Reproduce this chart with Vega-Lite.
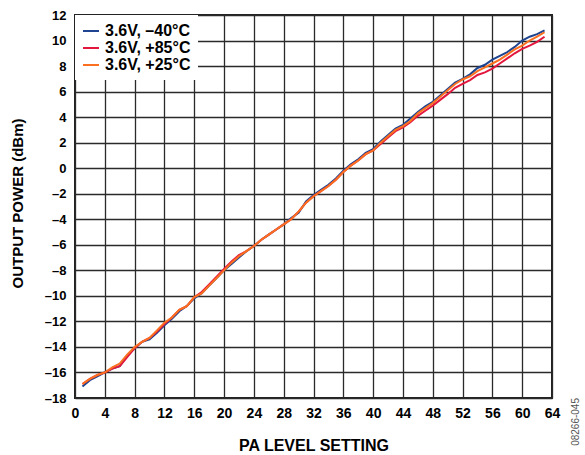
{
  "$schema": "https://vega.github.io/schema/vega-lite/v6.json",
  "width": 477,
  "height": 383,
  "autosize": {"type": "none"},
  "padding": {"left": 75, "top": 15, "right": 33, "bottom": 57},
  "background": "white",
  "title": {
    "text": "08266-045",
    "orient": "right",
    "anchor": "end",
    "frame": "group",
    "angle": -90,
    "align": "right",
    "baseline": "top",
    "offset": 1,
    "fontSize": 10,
    "fontWeight": "normal",
    "font": "Liberation Sans",
    "color": "#555555"
  },
  "config": {
    "view": {"stroke": "#222222", "strokeWidth": 2},
    "axis": {
      "labelFont": "Liberation Sans",
      "labelFontWeight": "bold",
      "labelFontSize": 14,
      "labelColor": "#000000",
      "titleFont": "Liberation Sans",
      "titleFontWeight": "bold",
      "titleFontSize": 15,
      "titleColor": "#000000",
      "gridColor": "#2a2a2a",
      "gridWidth": 1.3,
      "gridOpacity": 1,
      "domain": false,
      "ticks": false
    },
    "legend": {
      "labelFont": "Liberation Sans",
      "labelFontWeight": "bold",
      "labelFontSize": 16,
      "labelColor": "#000000",
      "labelLimit": 300
    }
  },
  "data": {
    "values": [
      {"pa":1,"s":"3.6V, –40°C","p":-17.1},{"pa":2,"s":"3.6V, –40°C","p":-16.6},{"pa":3,"s":"3.6V, –40°C","p":-16.3},{"pa":4,"s":"3.6V, –40°C","p":-16.0},{"pa":5,"s":"3.6V, –40°C","p":-15.7},{"pa":6,"s":"3.6V, –40°C","p":-15.5},{"pa":7,"s":"3.6V, –40°C","p":-14.7},{"pa":8,"s":"3.6V, –40°C","p":-14.1},{"pa":9,"s":"3.6V, –40°C","p":-13.6},{"pa":10,"s":"3.6V, –40°C","p":-13.4},
      {"pa":11,"s":"3.6V, –40°C","p":-12.9},{"pa":12,"s":"3.6V, –40°C","p":-12.3},{"pa":13,"s":"3.6V, –40°C","p":-11.8},{"pa":14,"s":"3.6V, –40°C","p":-11.2},{"pa":15,"s":"3.6V, –40°C","p":-10.8},{"pa":16,"s":"3.6V, –40°C","p":-10.2},{"pa":17,"s":"3.6V, –40°C","p":-9.8},{"pa":18,"s":"3.6V, –40°C","p":-9.2},{"pa":19,"s":"3.6V, –40°C","p":-8.6},{"pa":20,"s":"3.6V, –40°C","p":-8.0},
      {"pa":21,"s":"3.6V, –40°C","p":-7.5},{"pa":22,"s":"3.6V, –40°C","p":-7.0},{"pa":23,"s":"3.6V, –40°C","p":-6.5},{"pa":24,"s":"3.6V, –40°C","p":-6.1},{"pa":25,"s":"3.6V, –40°C","p":-5.6},{"pa":26,"s":"3.6V, –40°C","p":-5.2},{"pa":27,"s":"3.6V, –40°C","p":-4.8},{"pa":28,"s":"3.6V, –40°C","p":-4.4},{"pa":29,"s":"3.6V, –40°C","p":-3.9},{"pa":30,"s":"3.6V, –40°C","p":-3.5},
      {"pa":31,"s":"3.6V, –40°C","p":-2.6},{"pa":32,"s":"3.6V, –40°C","p":-2.1},{"pa":33,"s":"3.6V, –40°C","p":-1.7},{"pa":34,"s":"3.6V, –40°C","p":-1.3},{"pa":35,"s":"3.6V, –40°C","p":-0.8},{"pa":36,"s":"3.6V, –40°C","p":-0.2},{"pa":37,"s":"3.6V, –40°C","p":0.3},{"pa":38,"s":"3.6V, –40°C","p":0.7},{"pa":39,"s":"3.6V, –40°C","p":1.2},{"pa":40,"s":"3.6V, –40°C","p":1.5},
      {"pa":41,"s":"3.6V, –40°C","p":2.1},{"pa":42,"s":"3.6V, –40°C","p":2.6},{"pa":43,"s":"3.6V, –40°C","p":3.1},{"pa":44,"s":"3.6V, –40°C","p":3.4},{"pa":45,"s":"3.6V, –40°C","p":3.9},{"pa":46,"s":"3.6V, –40°C","p":4.4},{"pa":47,"s":"3.6V, –40°C","p":4.85},{"pa":48,"s":"3.6V, –40°C","p":5.2},{"pa":49,"s":"3.6V, –40°C","p":5.7},{"pa":50,"s":"3.6V, –40°C","p":6.2},
      {"pa":51,"s":"3.6V, –40°C","p":6.7},{"pa":52,"s":"3.6V, –40°C","p":7.0},{"pa":53,"s":"3.6V, –40°C","p":7.35},{"pa":54,"s":"3.6V, –40°C","p":7.85},{"pa":55,"s":"3.6V, –40°C","p":8.1},{"pa":56,"s":"3.6V, –40°C","p":8.5},{"pa":57,"s":"3.6V, –40°C","p":8.8},{"pa":58,"s":"3.6V, –40°C","p":9.1},{"pa":59,"s":"3.6V, –40°C","p":9.5},{"pa":60,"s":"3.6V, –40°C","p":10.0},
      {"pa":61,"s":"3.6V, –40°C","p":10.3},{"pa":62,"s":"3.6V, –40°C","p":10.5},{"pa":63,"s":"3.6V, –40°C","p":10.8},

      {"pa":1,"s":"3.6V, +85°C","p":-16.9},{"pa":2,"s":"3.6V, +85°C","p":-16.5},{"pa":3,"s":"3.6V, +85°C","p":-16.2},{"pa":4,"s":"3.6V, +85°C","p":-16.0},{"pa":5,"s":"3.6V, +85°C","p":-15.7},{"pa":6,"s":"3.6V, +85°C","p":-15.5},{"pa":7,"s":"3.6V, +85°C","p":-14.8},{"pa":8,"s":"3.6V, +85°C","p":-14.1},{"pa":9,"s":"3.6V, +85°C","p":-13.6},{"pa":10,"s":"3.6V, +85°C","p":-13.3},
      {"pa":11,"s":"3.6V, +85°C","p":-12.8},{"pa":12,"s":"3.6V, +85°C","p":-12.2},{"pa":13,"s":"3.6V, +85°C","p":-11.7},{"pa":14,"s":"3.6V, +85°C","p":-11.1},{"pa":15,"s":"3.6V, +85°C","p":-10.8},{"pa":16,"s":"3.6V, +85°C","p":-10.1},{"pa":17,"s":"3.6V, +85°C","p":-9.7},{"pa":18,"s":"3.6V, +85°C","p":-9.1},{"pa":19,"s":"3.6V, +85°C","p":-8.5},{"pa":20,"s":"3.6V, +85°C","p":-7.9},
      {"pa":21,"s":"3.6V, +85°C","p":-7.3},{"pa":22,"s":"3.6V, +85°C","p":-6.8},{"pa":23,"s":"3.6V, +85°C","p":-6.5},{"pa":24,"s":"3.6V, +85°C","p":-6.1},{"pa":25,"s":"3.6V, +85°C","p":-5.6},{"pa":26,"s":"3.6V, +85°C","p":-5.2},{"pa":27,"s":"3.6V, +85°C","p":-4.8},{"pa":28,"s":"3.6V, +85°C","p":-4.4},{"pa":29,"s":"3.6V, +85°C","p":-4.0},{"pa":30,"s":"3.6V, +85°C","p":-3.4},
      {"pa":31,"s":"3.6V, +85°C","p":-2.7},{"pa":32,"s":"3.6V, +85°C","p":-2.2},{"pa":33,"s":"3.6V, +85°C","p":-1.8},{"pa":34,"s":"3.6V, +85°C","p":-1.4},{"pa":35,"s":"3.6V, +85°C","p":-0.9},{"pa":36,"s":"3.6V, +85°C","p":-0.3},{"pa":37,"s":"3.6V, +85°C","p":0.2},{"pa":38,"s":"3.6V, +85°C","p":0.6},{"pa":39,"s":"3.6V, +85°C","p":1.1},{"pa":40,"s":"3.6V, +85°C","p":1.4},
      {"pa":41,"s":"3.6V, +85°C","p":1.9},{"pa":42,"s":"3.6V, +85°C","p":2.4},{"pa":43,"s":"3.6V, +85°C","p":2.9},{"pa":44,"s":"3.6V, +85°C","p":3.2},{"pa":45,"s":"3.6V, +85°C","p":3.6},{"pa":46,"s":"3.6V, +85°C","p":4.1},{"pa":47,"s":"3.6V, +85°C","p":4.5},{"pa":48,"s":"3.6V, +85°C","p":4.9},{"pa":49,"s":"3.6V, +85°C","p":5.35},{"pa":50,"s":"3.6V, +85°C","p":5.8},
      {"pa":51,"s":"3.6V, +85°C","p":6.3},{"pa":52,"s":"3.6V, +85°C","p":6.6},{"pa":53,"s":"3.6V, +85°C","p":6.9},{"pa":54,"s":"3.6V, +85°C","p":7.3},{"pa":55,"s":"3.6V, +85°C","p":7.5},{"pa":56,"s":"3.6V, +85°C","p":7.8},{"pa":57,"s":"3.6V, +85°C","p":8.2},{"pa":58,"s":"3.6V, +85°C","p":8.6},{"pa":59,"s":"3.6V, +85°C","p":9.0},{"pa":60,"s":"3.6V, +85°C","p":9.35},
      {"pa":61,"s":"3.6V, +85°C","p":9.6},{"pa":62,"s":"3.6V, +85°C","p":9.9},{"pa":63,"s":"3.6V, +85°C","p":10.3},

      {"pa":1,"s":"3.6V, +25°C","p":-16.9},{"pa":2,"s":"3.6V, +25°C","p":-16.5},{"pa":3,"s":"3.6V, +25°C","p":-16.2},{"pa":4,"s":"3.6V, +25°C","p":-16.0},{"pa":5,"s":"3.6V, +25°C","p":-15.6},{"pa":6,"s":"3.6V, +25°C","p":-15.3},{"pa":7,"s":"3.6V, +25°C","p":-14.6},{"pa":8,"s":"3.6V, +25°C","p":-14.0},{"pa":9,"s":"3.6V, +25°C","p":-13.6},{"pa":10,"s":"3.6V, +25°C","p":-13.3},
      {"pa":11,"s":"3.6V, +25°C","p":-12.7},{"pa":12,"s":"3.6V, +25°C","p":-12.1},{"pa":13,"s":"3.6V, +25°C","p":-11.7},{"pa":14,"s":"3.6V, +25°C","p":-11.1},{"pa":15,"s":"3.6V, +25°C","p":-10.8},{"pa":16,"s":"3.6V, +25°C","p":-10.1},{"pa":17,"s":"3.6V, +25°C","p":-9.8},{"pa":18,"s":"3.6V, +25°C","p":-9.2},{"pa":19,"s":"3.6V, +25°C","p":-8.6},{"pa":20,"s":"3.6V, +25°C","p":-8.0},
      {"pa":21,"s":"3.6V, +25°C","p":-7.4},{"pa":22,"s":"3.6V, +25°C","p":-6.9},{"pa":23,"s":"3.6V, +25°C","p":-6.5},{"pa":24,"s":"3.6V, +25°C","p":-6.1},{"pa":25,"s":"3.6V, +25°C","p":-5.6},{"pa":26,"s":"3.6V, +25°C","p":-5.2},{"pa":27,"s":"3.6V, +25°C","p":-4.8},{"pa":28,"s":"3.6V, +25°C","p":-4.4},{"pa":29,"s":"3.6V, +25°C","p":-4.0},{"pa":30,"s":"3.6V, +25°C","p":-3.4},
      {"pa":31,"s":"3.6V, +25°C","p":-2.7},{"pa":32,"s":"3.6V, +25°C","p":-2.2},{"pa":33,"s":"3.6V, +25°C","p":-1.8},{"pa":34,"s":"3.6V, +25°C","p":-1.4},{"pa":35,"s":"3.6V, +25°C","p":-0.9},{"pa":36,"s":"3.6V, +25°C","p":-0.3},{"pa":37,"s":"3.6V, +25°C","p":0.2},{"pa":38,"s":"3.6V, +25°C","p":0.6},{"pa":39,"s":"3.6V, +25°C","p":1.1},{"pa":40,"s":"3.6V, +25°C","p":1.4},
      {"pa":41,"s":"3.6V, +25°C","p":2.0},{"pa":42,"s":"3.6V, +25°C","p":2.5},{"pa":43,"s":"3.6V, +25°C","p":3.0},{"pa":44,"s":"3.6V, +25°C","p":3.3},{"pa":45,"s":"3.6V, +25°C","p":3.7},{"pa":46,"s":"3.6V, +25°C","p":4.3},{"pa":47,"s":"3.6V, +25°C","p":4.7},{"pa":48,"s":"3.6V, +25°C","p":5.1},{"pa":49,"s":"3.6V, +25°C","p":5.6},{"pa":50,"s":"3.6V, +25°C","p":6.1},
      {"pa":51,"s":"3.6V, +25°C","p":6.6},{"pa":52,"s":"3.6V, +25°C","p":6.95},{"pa":53,"s":"3.6V, +25°C","p":7.2},{"pa":54,"s":"3.6V, +25°C","p":7.6},{"pa":55,"s":"3.6V, +25°C","p":7.9},{"pa":56,"s":"3.6V, +25°C","p":8.2},{"pa":57,"s":"3.6V, +25°C","p":8.5},{"pa":58,"s":"3.6V, +25°C","p":8.9},{"pa":59,"s":"3.6V, +25°C","p":9.3},{"pa":60,"s":"3.6V, +25°C","p":9.6},
      {"pa":61,"s":"3.6V, +25°C","p":10.0},{"pa":62,"s":"3.6V, +25°C","p":10.3},{"pa":63,"s":"3.6V, +25°C","p":10.65}
    ]
  },
  "encoding": {
    "x": {
      "field": "pa", "type": "quantitative",
      "scale": {"domain": [0, 64], "nice": false, "zero": false},
      "axis": {
        "values": [0,4,8,12,16,20,24,28,32,36,40,44,48,52,56,60,64],
        "title": "PA LEVEL SETTING",
        "titleFontSize": 16,
        "labelPadding": 8,
        "labelFlush": false,
        "labelOverlap": false,
        "titleBaseline": "top",
        "titleY": 39,
        "titleX": 238.5
      }
    },
    "y": {
      "field": "p", "type": "quantitative",
      "scale": {"domain": [-18, 12], "nice": false, "zero": false},
      "axis": {
        "values": [-18,-16,-14,-12,-10,-8,-6,-4,-2,0,2,4,6,8,10,12],
        "title": "OUTPUT POWER (dBm)",
        "labelFontSize": 13,
        "labelPadding": 9,
        "labelFlush": false,
        "labelOverlap": false,
        "labelExpr": "datum.value < 0 ? '–' + format(-datum.value, 'd') : format(datum.value, 'd')",
        "titleBaseline": "middle",
        "titleX": -58,
        "titleY": 188
      }
    },
    "color": {
      "field": "s", "type": "nominal",
      "scale": {
        "domain": ["3.6V, –40°C", "3.6V, +85°C", "3.6V, +25°C"],
        "range": ["#1f4590", "#e3173e", "#fa7020"]
      },
      "legend": {
        "title": null,
        "orient": "none",
        "legendX": 0,
        "legendY": 0,
        "fillColor": "white",
        "padding": 7,
        "rowPadding": -1,
        "symbolType": "stroke",
        "symbolSize": 256,
        "symbolStrokeWidth": 2,
        "symbolOffset": 0,
        "labelOffset": 5
      }
    }
  },
  "layer": [
    {"transform": [{"filter": "datum.s === '3.6V, –40°C'"}], "mark": {"type": "line", "strokeWidth": 2}},
    {"transform": [{"filter": "datum.s === '3.6V, +85°C'"}], "mark": {"type": "line", "strokeWidth": 2}},
    {"transform": [{"filter": "datum.s === '3.6V, +25°C'"}], "mark": {"type": "line", "strokeWidth": 2}}
  ]
}
